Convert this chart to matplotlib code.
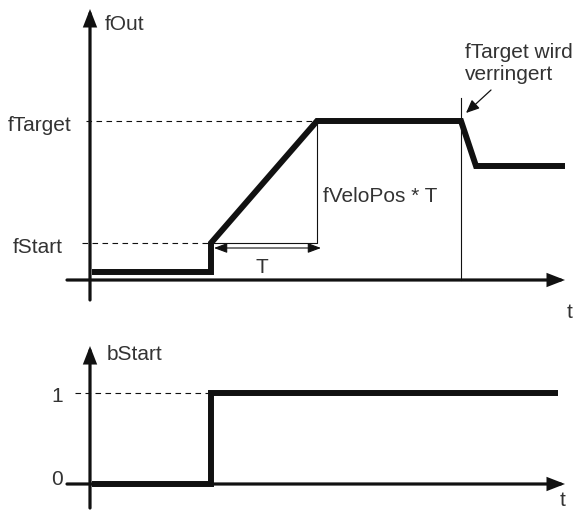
import matplotlib
matplotlib.use("Agg")
import matplotlib.pyplot as plt

plt.rcParams['font.family'] = ['Liberation Sans', 'DejaVu Sans']

# fOut curve (time units, output units)
t_out = [0.2, 12.1, 12.1, 22.7, 37.1, 38.6, 47.5]
f_out = [0.8, 0.8, 3.7, 15.9, 15.9, 11.4, 11.4]
f_start = 3.7
f_target = 15.9
t_step = 12.1
t_ramp_end = 22.7
t_reduce = 37.1

# bStart signal
t_b = [0.2, 12.1, 12.1, 46.8]
b_start = [0, 0, 1, 1]

INK = "#111111"
TXT = "#333333"
FS = 15

fig = plt.figure(figsize=(5.77, 5.13), dpi=100)
ax = fig.add_axes([0, 193 / 513, 1, 320 / 513])
ax2 = fig.add_axes([0, 0, 1, 193 / 513])
for a in (ax, ax2):
    a.set_axis_off()
    a.set_xlim(-9, 48.7)
ax.set_ylim(-4, 28)
ax2.set_ylim(-0.3187, 1.802)

axis_arrow = dict(arrowstyle='-|>,head_length=0.9,head_width=0.35', lw=2.3,
                  color=INK, shrinkA=0, shrinkB=0, joinstyle='miter')
txt = dict(fontsize=FS, color=TXT, va='baseline')

# ---- top: fOut ----
ax.annotate('', xy=(0, 27.1), xytext=(0, -2), arrowprops=axis_arrow)
ax.annotate('', xy=(47.5, 0), xytext=(-2.3, 0), arrowprops=axis_arrow)

ax.plot([-0.4, t_ramp_end], [f_target, f_target], color=INK, lw=0.8, dashes=(5, 4))
ax.plot([-0.8, t_step], [f_start, f_start], color=INK, lw=0.8, dashes=(5, 4))
ax.plot([t_step, t_ramp_end, t_ramp_end], [f_start, f_start, f_target], color=INK, lw=0.8)
ax.annotate('', xy=(t_ramp_end + 0.4, f_start - 0.5), xytext=(t_step + 0.3, f_start - 0.5),
            arrowprops=dict(arrowstyle='<|-|>,head_length=0.8,head_width=0.3', lw=0.8,
                            color=INK, shrinkA=0, shrinkB=0))
ax.plot([t_reduce, t_reduce], [0, 18.2], color=INK, lw=0.8)

ax.plot(t_out, f_out, color=INK, lw=4.3, solid_joinstyle='miter', solid_capstyle='butt')

ax.text(1.5, 25.0, 'fOut', ha='left', **txt)
ax.text(-1.9, 14.9, 'fTarget', ha='right', **txt)
ax.text(-2.7, 2.7, 'fStart', ha='right', **txt)
ax.text(17.2, 0.7, 'T', ha='center', **txt)
ax.text(23.3, 7.8, 'fVeloPos * T', ha='left', **txt)
ax.text(48.0, -3.8, 't', ha='center', **txt)
ax.text(37.5, 22.2, 'fTarget wird', ha='left', **txt)
ax.text(37.5, 20.0, 'verringert', ha='left', **txt)
ax.annotate('', xy=(37.6, 16.7), xytext=(40.1, 19.0),
            arrowprops=dict(arrowstyle='-|>,head_length=0.8,head_width=0.35', lw=0.9,
                            color=INK, shrinkA=0, shrinkB=0))

# ---- bottom: bStart ----
ax2.annotate('', xy=(0, 1.516), xytext=(0, -0.264), arrowprops=axis_arrow)
ax2.annotate('', xy=(47.5, 0), xytext=(-2.3, 0), arrowprops=axis_arrow)
ax2.plot([-1.5, t_step], [1, 1], color=INK, lw=0.8, dashes=(5, 4))
ax2.plot(t_b, b_start, color=INK, lw=4.3, solid_joinstyle='miter', solid_capstyle='butt')

ax2.text(1.7, 1.363, 'bStart', ha='left', **txt)
ax2.text(-3.3, 0.90, '1', ha='center', **txt)
ax2.text(-3.25, -0.01, '0', ha='center', **txt)
ax2.text(47.3, -0.24, 't', ha='center', **txt)

fig.savefig('out.png', dpi=100)
